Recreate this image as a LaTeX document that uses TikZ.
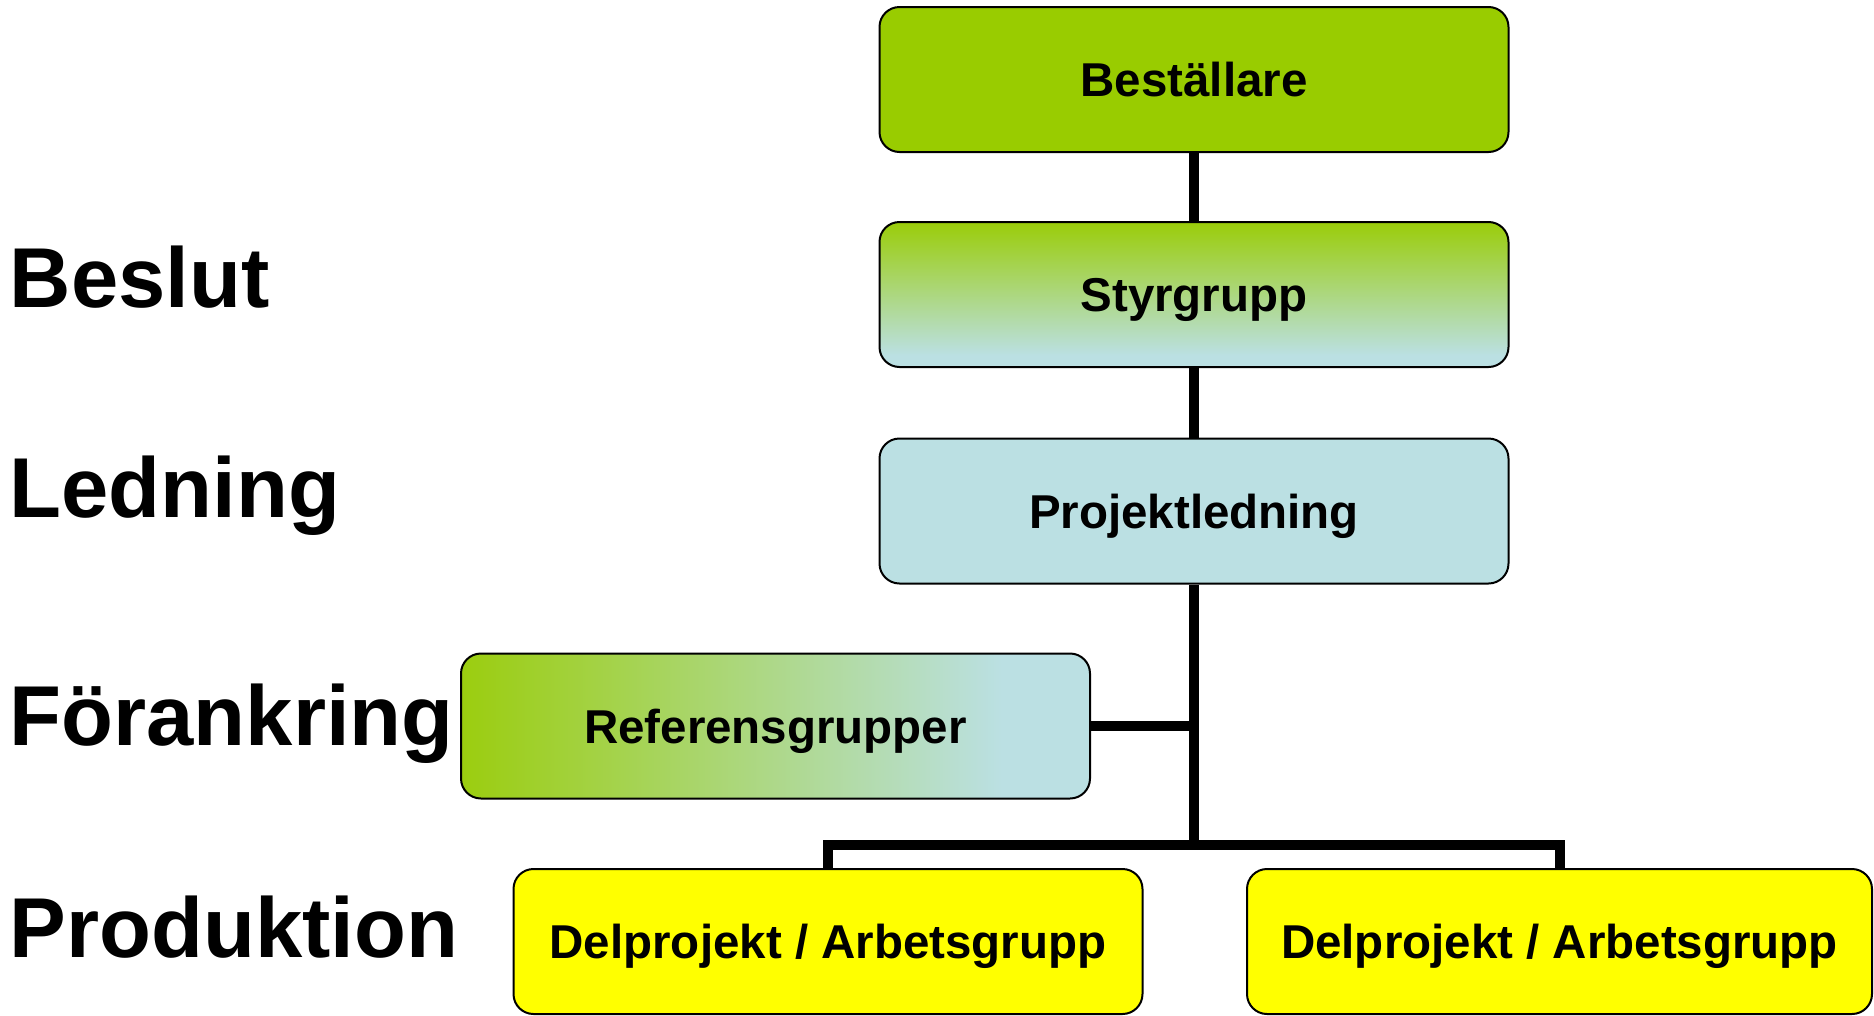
\documentclass[tikz,border=0pt]{standalone}
\usepackage{fontspec}
\setmainfont{Liberation Sans}
\definecolor{grn}{HTML}{99CC00}
\definecolor{lblue}{HTML}{BBE0E3}
\definecolor{ylw}{HTML}{FFFF00}
\pgfdeclareverticalshading{styrshade}{100bp}{color(0bp)=(lblue); color(29bp)=(lblue); color(77bp)=(grn); color(100bp)=(grn)}
\pgfdeclarehorizontalshading{refshade}{100bp}{color(0bp)=(grn); color(22bp)=(grn); color(68bp)=(lblue); color(100bp)=(lblue)}
\begin{document}
\begin{tikzpicture}[x=1pt,y=-1pt,
  box/.style={draw=black, line width=2pt, rounded corners=20pt, minimum width=629pt, minimum height=145pt,
    inner sep=0pt, text height=34pt, text depth=0pt,
    font=\fontsize{47.5}{57}\selectfont\bfseries},
  conn/.style={line width=10pt, black},
  lvl/.style={anchor=base west, inner sep=0pt, font=\fontsize{85}{100}\selectfont\bfseries}]
\useasboundingbox (0,0) rectangle (1874,1015);
\node[box, fill=grn] (best) at (1194,79.5) {Beställare};
\node[box, shade, shading=styrshade] (styr) at (1194,294.5) {Styrgrupp};
\node[box, fill=lblue] (proj) at (1194,511) {Projektledning};
\node[box, shade, shading=refshade] (ref) at (775.5,726) {Referensgrupper};
\node[box, fill=ylw] (del1) at (828,941.5) {Delprojekt / Arbetsgrupp};
\node[box, fill=ylw, minimum width=625pt] (del2) at (1559.5,941.5) {Delprojekt / Arbetsgrupp};
\coordinate (bus) at (1194,845);
\draw[conn] (best.south) -- (styr.north);
\draw[conn] (styr.south) -- (proj.north);
\draw[conn] (proj.south) -- (bus);
\draw[conn] (ref.east) -- (ref.east -| bus);
\draw[conn, line join=miter] (del1.north) |- (bus) -| (del2.north);
\node[lvl] (beslut) at (9.5,307) {Beslut};
\node[lvl] (ledning) at (9.5,517) {Ledning};
\node[lvl] (forank) at (9.5,745) {Förankring};
\node[lvl] (prod) at (9.5,957) {Produktion};
\end{tikzpicture}
\end{document}
